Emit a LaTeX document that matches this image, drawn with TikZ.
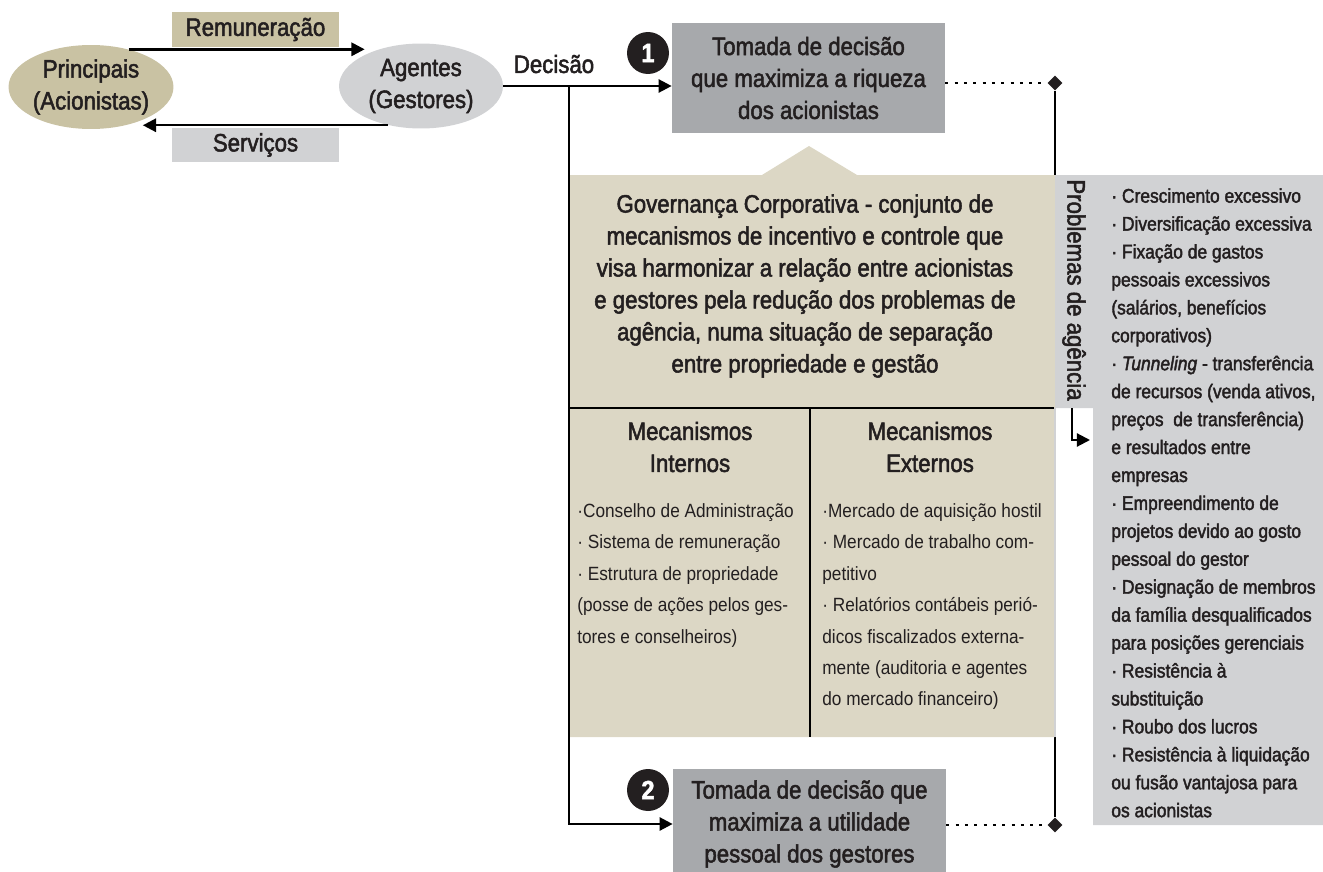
\documentclass[tikz,border=0pt]{standalone}
\usepackage{fontspec}
\setmainfont{Liberation Sans}[FakeStretch=0.9]
\newfontfamily\medfont{Liberation Sans}[FakeStretch=0.885,FakeBold=2]
\usetikzlibrary{arrows.meta,shapes.geometric}
\definecolor{ink}{HTML}{231F20}
\definecolor{princtan}{HTML}{C9C2A3}
\definecolor{govtan}{HTML}{DCD7C5}
\definecolor{agentgray}{HTML}{D1D2D4}
\definecolor{decgray}{HTML}{A7A9AC}

\begin{document}
\begin{tikzpicture}
[
    x=0.02cm, y=-0.02cm,
    every node/.style={text=ink, inner sep=0pt, font=\medfont\fontsize{14.3}{18.2}\selectfont},
    every label/.style={align=center},
    party/.style={ellipse, minimum width=3.3cm, minimum height=1.68cm},
    tag/.style={minimum width=3.34cm, minimum height=0.69cm},
    outcome/.style={fill=decgray, minimum width=5.46cm, minimum height=2.2cm, align=center},
    badge/.style={circle, fill=ink, text=white, minimum size=0.84cm, font=\medfont\bfseries\fontsize{15}{15}\selectfont},
    joint/.style={diamond, fill=ink, minimum size=0.3cm},
    link/.style={line width=1.4pt, -{Triangle[length=7.5pt, width=7.5pt]}},
    dotlink/.style={line width=1.7pt, dash pattern=on 1.7pt off 3.6pt},
    rule/.style={line width=1.3pt},
    mech/.style={anchor=north west, align=left, font=\fontsize{10.9}{17.9}\selectfont},
]
\useasboundingbox (0,0) rectangle (1323,872);

\node[joint] (d1) at (1055,83) {};
\node[joint] (d2) at (1055,825) {};
\draw[rule] (d1) -- (d2);

\fill[govtan] (569,175) -- (762,175) -- (809,146) -- (857,175) -- (1055,175) -- (1055,737) -- (569,737) -- cycle;
\fill[agentgray] (1055,175) -- (1323,175) -- (1323,825) -- (1093,825) -- (1093,408) -- (1055,408) -- cycle;
\draw[agentgray, line width=1.2pt] (1055,408) -- (1055,737);
\draw[rule] (569,408) -- (1054,408);
\draw[rule] (810,408) -- (810,737);

\node[party, fill=princtan, label=center:{Principais\\(Acionistas)}] (princ) at (91,87) {};
\node[party, fill=agentgray, minimum width=3.28cm, minimum height=1.7cm, label=center:{Agentes\\(Gestores)}] (agent) at (421,86) {};
\node[tag, fill=princtan] (remun) at (255.5,29.5) {Remuneração};
\node[tag, fill=agentgray] (serv) at (255.5,145) {Serviços};
\node (declab) at (554,64) {Decisão};

\node[outcome] (dec1) at (808.5,78) {Tomada de decisão\\que maximiza a riqueza\\dos acionistas};
\node[outcome] (dec2) at (809.5,824) {Tomada de decisão que\\maximiza a utilidade\\pessoal dos gestores};
\node[badge] (b1) at (648,53) {1};
\node[badge] (b2) at (648,790) {2};

\node[align=center] (gov) at (805,286) {Governança Corporativa - conjunto de\\mecanismos de incentivo e controle que\\visa harmonizar a relação entre acionistas\\e gestores pela redução dos problemas de\\agência, numa situação de separação\\entre propriedade e gestão};
\node[align=center] (intern) at (690,447) {Mecanismos\\Internos};
\node[align=center] (extern) at (930,447) {Mecanismos\\Externos};
\node[mech] (internlist) at (577,503) {·Conselho de Administração\\· Sistema de remuneração\\· Estrutura de propriedade\\(posse de ações pelos ges-\\tores e conselheiros)};
\node[mech] (externlist) at (822,503) {·Mercado de aquisição hostil\\· Mercado de trabalho com-\\petitivo\\· Relatórios contábeis perió-\\dicos fiscalizados externa-\\mente (auditoria e agentes\\do mercado financeiro)};

\node[rotate=-90] (probtitle) at (1074,290) {Problemas de agência};
\node[anchor=north west, align=left, font=\medfont\fontsize{11.2}{15.9}\selectfont] (problist) at (1111,188) {· Crescimento excessivo\\· Diversificação excessiva\\· Fixação de gastos\\pessoais excessivos\\(salários, benefícios\\corporativos)\\· \textit{Tunneling} - transferência\\de recursos (venda ativos,\\preços~ de transferência)\\e resultados entre\\empresas\\· Empreendimento de\\projetos devido ao gosto\\pessoal do gestor\\· Designação de membros\\da família desqualificados\\para posições gerenciais\\· Resistência à\\substituição\\· Roubo dos lucros\\· Resistência à liquidação\\ou fusão vantajosa para\\os acionistas};

\coordinate (split) at (569,86);
\coordinate (stripfoot) at (1072,408);
\coordinate (listin) at (1090,440);

\draw[link] (princ.45) -- ([xshift=0.52cm]agent.west |- princ.45);
\draw[link] (agent.230) -- ([xshift=-0.62cm]princ.east |- agent.230);
\draw[link] (agent.east) -- (agent.east -| dec1.west);
\draw[link] (split) |- (dec2.west);
\draw[dotlink] (dec1.east |- d1) -- (d1);
\draw[dotlink] (dec2.east |- d2) -- (d2);
\draw[link, line width=1.2pt] (stripfoot) |- (listin);
\end{tikzpicture}
\end{document}
